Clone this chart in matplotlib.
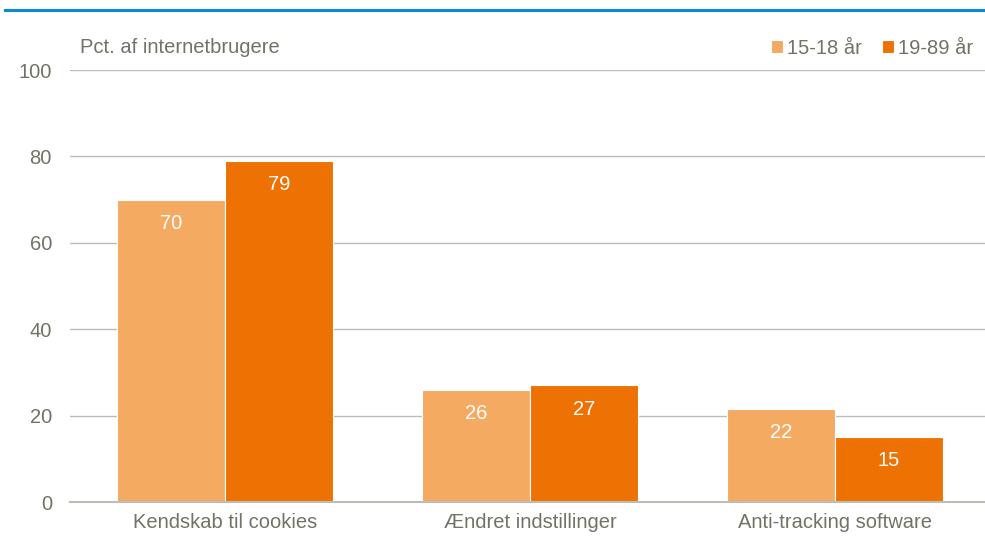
import matplotlib.pyplot as plt
import numpy as np

# Data
categories = ["Kendskab til cookies", "Ændret indstillinger", "Anti-tracking software"]
series_names = ["15-18 år", "19-89 år"]
young = [70, 26, 21.5]
adult = [79, 27, 15]
young_labels = ["70", "26", "22"]
adult_labels = ["79", "27", "15"]

light = '#F5AA62'
dark = '#EE7203'
text_col = '#727266'

plt.rcParams['font.family'] = ['Liberation Sans', 'DejaVu Sans']

fig = plt.figure(figsize=(9.85, 5.4), dpi=100)
ax = fig.add_axes([70 / 985, 38 / 540, 915 / 985, 432 / 540])

x = np.arange(len(categories))
w = 0.355
b1 = ax.bar(x - w / 2, young, w, color=light, edgecolor='white', linewidth=0.8, label=series_names[0], zorder=2)
b2 = ax.bar(x + w / 2, adult, w, color=dark, edgecolor='white', linewidth=0.8, label=series_names[1], zorder=2)

# value labels inside the bars, near the top
for bars, labs in ((b1, young_labels), (b2, adult_labels)):
    for bar, lab in zip(bars, labs):
        ax.text(bar.get_x() + bar.get_width() / 2, bar.get_height() - 3.3, lab,
                ha='center', va='top', color='white', fontsize=14.5)

ax.set_xlim(-0.508, 2.492)
ax.set_ylim(0, 100)
ax.set_yticks([0, 20, 40, 60, 80, 100])
ax.yaxis.grid(True, color='#BDBDB3', linewidth=1, zorder=0)
ax.axhline(0, color='#BDBDB3', linewidth=1.5, zorder=3, clip_on=False)
ax.set_axisbelow(True)
ax.tick_params(axis='y', length=0, pad=13, labelsize=14.5, labelcolor=text_col)
ax.tick_params(axis='x', length=0, pad=8, labelsize=14.5, labelcolor=text_col)
ax.set_xticks(x)
ax.set_xticklabels(categories)
for s in ax.spines.values():
    s.set_visible(False)

ax.text(10 / 915, 1.03, "Pct. af internetbrugere", transform=ax.transAxes,
        ha='left', va='bottom', fontsize=14.5, color=text_col)

leg = ax.legend(loc='lower right', bbox_to_anchor=(1.0, 1.0), ncol=2, frameon=False,
                fontsize=14.5, handlelength=0.6, handleheight=0.6, handletextpad=0.2,
                columnspacing=1.0, borderaxespad=0.2, labelcolor=text_col)

# blue top rule
fig.add_artist(plt.Line2D([5 / 985, 1.0], [1 - 10 / 540, 1 - 10 / 540], color='#0A8BD1', linewidth=2.2))

fig.savefig("out.png", dpi=100)
